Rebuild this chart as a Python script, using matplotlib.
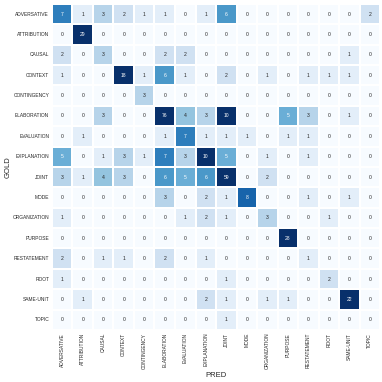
import numpy as np
import matplotlib
matplotlib.use("Agg")
import matplotlib.pyplot as plt
import seaborn as sns

labels = ['ADVERSATIVE', 'ATTRIBUTION', 'CAUSAL', 'CONTEXT', 'CONTINGENCY',
          'ELABORATION', 'EVALUATION', 'EXPLANATION', 'JOINT', 'MODE',
          'ORGANIZATION', 'PURPOSE', 'RESTATEMENT', 'ROOT', 'SAME-UNIT', 'TOPIC']

# rows = gold, columns = predicted
adversative  = [7, 1, 3, 2, 1, 1, 0, 1, 6, 0, 0, 0, 0, 0, 0, 2]
attribution  = [0, 29, 0, 0, 0, 0, 0, 0, 0, 0, 0, 0, 0, 0, 0, 0]
causal       = [2, 0, 3, 0, 0, 2, 2, 0, 0, 0, 0, 0, 0, 0, 1, 0]
context      = [1, 0, 0, 18, 1, 6, 1, 0, 2, 0, 1, 0, 1, 1, 1, 0]
contingency  = [0, 0, 0, 0, 3, 0, 0, 0, 0, 0, 0, 0, 0, 0, 0, 0]
elaboration  = [0, 0, 3, 0, 0, 76, 4, 3, 10, 0, 0, 5, 3, 0, 1, 0]
evaluation   = [0, 1, 0, 0, 0, 1, 7, 1, 1, 1, 0, 1, 1, 0, 0, 0]
explanation  = [5, 0, 1, 3, 1, 7, 3, 10, 5, 0, 1, 0, 1, 0, 0, 0]
joint        = [3, 1, 4, 3, 0, 6, 5, 6, 59, 0, 2, 0, 0, 0, 0, 0]
mode         = [0, 0, 0, 0, 0, 3, 0, 2, 1, 8, 0, 0, 1, 0, 1, 0]
organization = [1, 0, 0, 0, 0, 0, 1, 2, 1, 0, 3, 0, 0, 1, 0, 0]
purpose      = [0, 0, 0, 0, 0, 0, 0, 0, 0, 0, 0, 28, 0, 0, 0, 0]
restatement  = [2, 0, 1, 1, 0, 2, 0, 1, 0, 0, 0, 0, 1, 0, 0, 0]
root         = [1, 0, 0, 0, 0, 0, 0, 0, 1, 0, 0, 0, 0, 2, 0, 0]
same_unit    = [0, 1, 0, 0, 0, 0, 0, 2, 1, 0, 1, 1, 0, 0, 22, 0]
topic        = [0, 0, 0, 0, 0, 0, 0, 0, 1, 0, 0, 0, 0, 0, 0, 0]

cm = np.array([adversative, attribution, causal, context, contingency,
               elaboration, evaluation, explanation, joint, mode,
               organization, purpose, restatement, root, same_unit, topic])

sns.set_style("white")
plt.rcParams['font.family'] = ['Liberation Sans', 'DejaVu Sans']

fig = plt.figure(figsize=(3.82, 3.82), dpi=100)
ax = fig.add_axes([0.136, 0.136, 0.859, 0.854])
sns.heatmap(cm, annot=True, fmt='d', cmap='Blues', vmin=0, vmax=10,
            cbar=False, linewidths=0.2, linecolor='white',
            xticklabels=labels, yticklabels=labels,
            annot_kws={'fontsize': 3.6}, ax=ax)

ax.tick_params(axis='both', length=0, labelsize=3.5, pad=2)
plt.setp(ax.get_xticklabels(), rotation=90)
plt.setp(ax.get_yticklabels(), rotation=0)
ax.set_xlabel('PRED', fontsize=5.5, labelpad=2)
ax.set_ylabel('GOLD', fontsize=5.5, labelpad=1)

fig.savefig('out.png', dpi=100)
